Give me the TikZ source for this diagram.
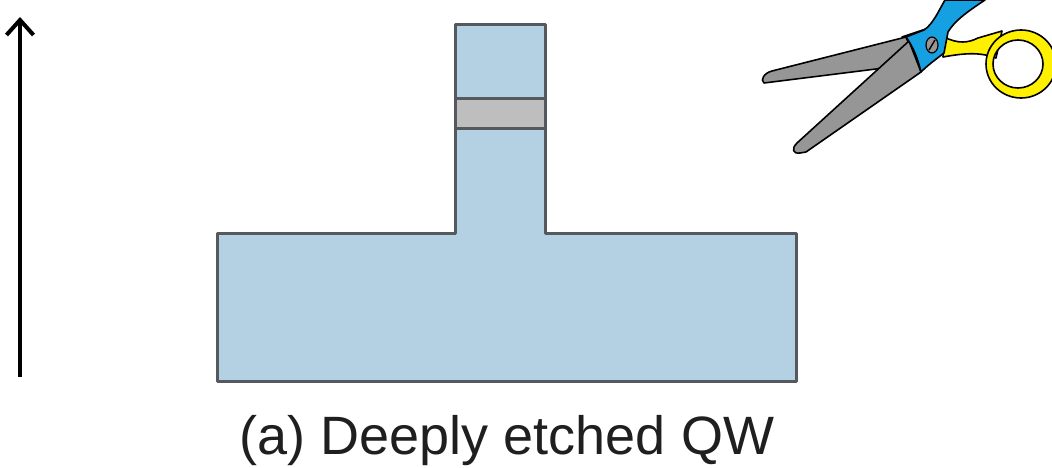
\documentclass[tikz,border=0pt]{standalone}
\usepackage{fontspec}
\setmainfont{Liberation Sans}
\usetikzlibrary{arrows.meta}
\definecolor{wgfill}{RGB}{179,209,227}
\definecolor{wgline}{RGB}{85,88,92}
\definecolor{qwfill}{RGB}{190,190,190}
\definecolor{bladegray}{RGB}{150,150,150}
\definecolor{handleblue}{RGB}{20,160,225}
\definecolor{handleyellow}{RGB}{255,240,0}
\tikzset{
  wgpart/.style={fill=wgfill, draw=wgline, line width=3pt, line join=round},
  qwband/.style={fill=qwfill, draw=wgline, line width=3pt},
  scpart/.style={draw=black, line width=1.6pt, line join=round},
  axisarrow/.style={line width=4.2pt, -{Straight Barb[length=15pt,width=27pt,line width=4pt]}},
}
\begin{document}
\begin{tikzpicture}[x=1pt,y=-1pt]
\useasboundingbox (0,0) rectangle (1052,468);
\clip (0,0) rectangle (1052,468);

% vertical axis arrow
\coordinate (axbot) at (20,377);
\coordinate (axtop) at (20,17);
\draw[axisarrow] (axbot) -- (axtop);

% ridge waveguide cross-section
\draw[wgpart] (217,233) -- (455,233) -- (455,25) -- (545,25) -- (545,233)
  -- (796,233) -- (796,381) -- (217,381) -- cycle;
\draw[qwband] (455,99) rectangle (545,129);

\node[font=\fontsize{54}{60}\selectfont, text=black!88, anchor=base] (cap) at (507,454) {(a) Deeply etched QW};

% scissors: yellow handle
\draw[scpart, fill=handleyellow] (944,37) .. controls (958,44) and (968,43) .. (978,38)
  -- (1002,31) -- (996,58) .. controls (980,52) and (965,53) .. (943,57) -- cycle;
\draw[scpart, fill=handleyellow, even odd rule]
  (1021,64) ellipse [x radius=35, y radius=34]
  (1018,64) ellipse [x radius=25, y radius=24];
% small yellow sliver behind the pivot
\draw[scpart, fill=handleyellow] (902,37) -- (926,29) -- (914,41) -- cycle;
% upper blade
\draw[scpart, fill=bladegray] (906,37) -- (772,71)
  .. controls (764,73) and (760,80) .. (764,83)
  -- (884,68) -- (918,66) -- cycle;
% lower blade
\draw[scpart, fill=bladegray] (909,41) -- (797,143)
  .. controls (791,149) and (793,154) .. (800,153)
  -- (806,152) -- (921,72) -- cycle;
% blue handle around the pivot
\draw[scpart, fill=handleblue] (906,37) -- (924,30) .. controls (933,24) and (938,12) .. (945,0)
  -- (985,0) .. controls (970,10) and (955,20) .. (948,32)
  -- (944,53) .. controls (935,60) and (928,65) .. (921,72)
  .. controls (918,60) and (914,48) .. (906,37) -- cycle;
% pivot screw
\draw[scpart, fill=bladegray, line width=1.2pt] (932,45) ellipse [x radius=6, y radius=8];
\draw[line width=1.4pt] (929,50) -- (935,40);
\end{tikzpicture}
\end{document}
